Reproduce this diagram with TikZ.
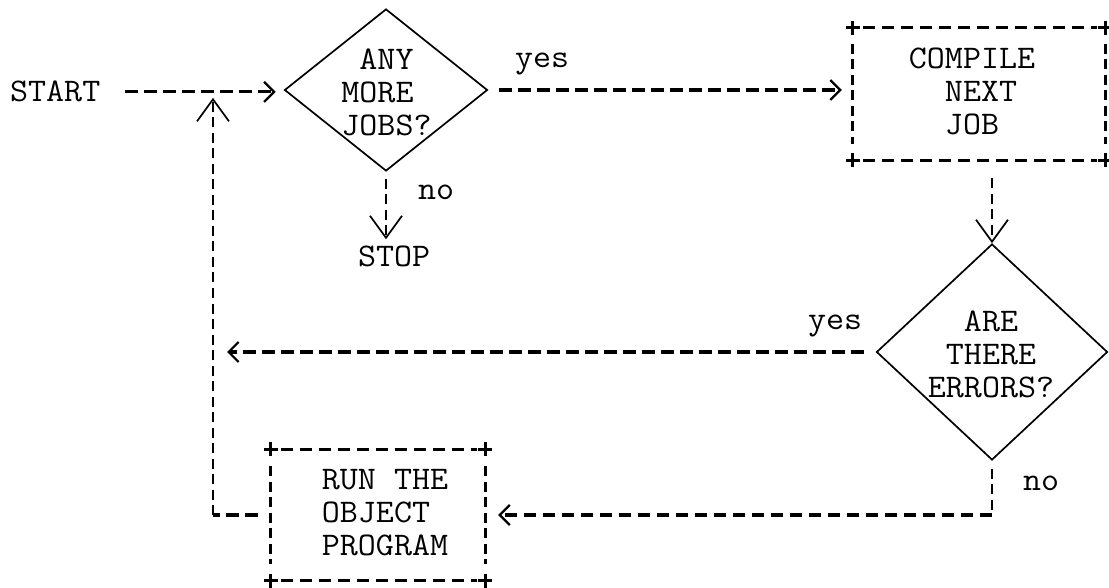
\documentclass[tikz,border=0pt]{standalone}
\usepackage{fontspec}
\newfontfamily\tw{Latin Modern Mono}[FakeStretch=1.06]
\usetikzlibrary{arrows.meta,shapes.geometric}
\begin{document}
\begin{tikzpicture}[x=1pt,y=-1pt,
  txt/.style={font=\tw\fontsize{33}{33}\selectfont, inner sep=0pt},
  hdash/.style={line width=3.2pt, dash pattern=on 12.5pt off 6.5pt},
  vdash/.style={line width=2.8pt, dash pattern=on 10pt off 5.5pt},
  thinline/.style={line width=1.7pt},
  dia/.style={draw, thinline, shape=diamond, inner sep=0pt},
  box/.style={rectangle, inner sep=0pt},
  plusmark/.style={line width=3pt},
  hhead/.style={-{Straight Barb[length=10pt,width=20pt,line width=2.2pt]}},
  vhead/.style={-{Straight Barb[length=22pt,width=32pt,line width=1.7pt]}}
  ]
\useasboundingbox (0,0) rectangle (1109,588);

% nodes
\node[txt, anchor=base west] (start) at (10,102) {START};
\node[dia, minimum width=203pt, minimum height=162pt] (d1) at (386,90) {};
\node[txt, align=left] (d1t) at (386.5,92) {\phantom{X}ANY\\MORE\\JOBS?};
\node[txt, anchor=base west] (yes1) at (515,68) {yes};
\node[txt, anchor=base west] (no1) at (418,200) {no};
\node[txt, anchor=base west] (stop) at (358,267) {STOP};

\node[box, minimum width=252pt, minimum height=132pt] (c1) at (979,94) {};
\node[txt, align=left] (c1t) at (972,91) {COMPILE\\\phantom{XX}NEXT\\\phantom{XX}JOB};

\node[dia, minimum width=231pt, minimum height=216pt] (d2) at (992,352) {};
\node[txt, align=center] (d2t) at (991,354) {ARE\\THERE\\ERRORS?};
\node[txt, anchor=base west] (yes2) at (808,329) {yes};
\node[txt, anchor=base west] (no2) at (1023,490) {no};

\node[box, minimum width=214pt, minimum height=131pt] (run) at (378,515) {};
\node[txt, align=left] (runt) at (385,513) {RUN THE\\OBJECT\\PROGRAM};

% box borders
\foreach \b/\s in {c1/16, run/17} {
  \draw[hdash, shorten <=10pt, shorten >=8pt] (\b.north west) -- (\b.north east);
  \draw[hdash, shorten <=10pt, shorten >=8pt] (\b.south west) -- (\b.south east);
  \draw[vdash, shorten <=\s pt, shorten >=\s pt] (\b.north west) -- (\b.south west);
  \draw[vdash, shorten <=\s pt, shorten >=\s pt] (\b.north east) -- (\b.south east);
  \foreach \a in {north west, north east, south west, south east}
    \draw[plusmark] (\b.\a) +(-7,0) -- +(7,0) +(0,-7) -- +(0,7);
}

% helper coordinates
\coordinate (lx) at (213,0);
\coordinate (k1) at (lx |- run.west);
\coordinate (k2) at (d2.south |- run.east);

% connectors
\draw[hdash, hhead, shorten <=25pt, shorten >=8pt] (start.east) -- (start.east -| d1.west);
\draw[hdash, hhead, shorten <=11pt, shorten >=11pt] (d1.east) -- (d1.east -| c1.west);
\draw[vdash, vhead, shorten <=7pt, shorten >=7pt] (d1.south) -- (d1.south |- stop.north);
\draw[vdash, vhead, shorten <=18pt] (c1.south -| d2.north) -- (d2.north);
\draw[hdash, hhead, shorten <=12pt, shorten >=14pt] (d2.west) -- (d2.west -| lx);
\draw[vdash, shorten <=8pt] (d2.south) -- (k2);
\draw[hdash, hhead, shorten >=13pt] (k2) -- (run.east);
\draw[hdash, shorten <=13pt] (run.west) -- (k1);
\draw[vdash, vhead, shorten >=6pt] (k1) -- (lx |- start.east);
\end{tikzpicture}
\end{document}
